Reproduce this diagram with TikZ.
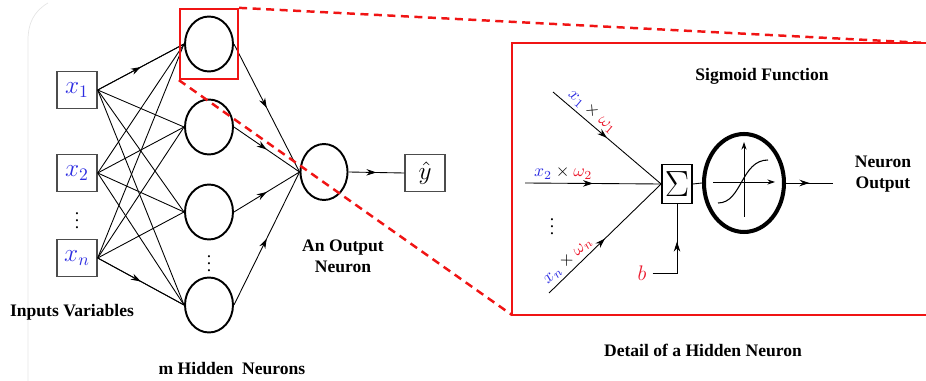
\documentclass[tikz,border=0pt]{standalone}
\usepackage{amsmath}
\usepackage{fontspec}
\setmainfont{Liberation Serif}
\usetikzlibrary{arrows.meta,decorations.markings,shapes.geometric,positioning}
\definecolor{inblue}{RGB}{45,45,225}
\definecolor{wred}{RGB}{235,25,45}
\definecolor{zoomred}{RGB}{240,20,20}
\tikzset{
  invar/.style={
    draw=black!70,
    line width=0.8pt,
    minimum width=8mm,
    minimum height=7.4mm,
    inner sep=0pt,
    font=\Large
  },
  neuron/.style={
    ellipse,
    draw,
    line width=1.1pt,
    minimum width=9.6mm,
    minimum height=11mm,
    inner sep=0pt
  },
  link/.style={
    line width=0.5pt
  },
  midarrow/.style={
    postaction={decorate},
    decoration={markings,
      mark=at position #1 with {\arrow{Stealth[length=2mm,width=1.3mm]}}}
  },
  midarrow/.default=0.5,
  zoombox/.style={
    draw=zoomred,
    line width=1.3pt,
    minimum width=11.6mm,
    minimum height=14mm
  },
  zoomline/.style={
    draw=zoomred,
    line width=1.4pt,
    dash pattern=on 1.6mm off 1.1mm
  },
  caption/.style={
    font=\bfseries,
    align=center
  },
  vdotsnode/.style={
    inner sep=0pt
  },
  sumbox/.style={
    draw,
    line width=1pt,
    minimum width=6mm,
    minimum height=7.8mm,
    inner sep=0pt,
    font=\fontsize{20}{20}\selectfont
  },
  sigmoid/.style={
    ellipse,
    draw,
    line width=2.3pt,
    minimum width=16mm,
    minimum height=19.6mm,
    inner sep=0pt
  },
  axis/.style={
    -{Stealth[length=1.5mm,width=1mm]},
    line width=0.5pt
  }
}

\begin{document}
\begin{tikzpicture}[x=0.02cm, y=-0.02cm]
  \useasboundingbox (0,0) rectangle (926,381);

  \draw[black!10] (28,381) -- (28,40) to[out=90,in=210] (48,3);

  % network
  \node[invar] (x1) at (77,90)  {$\color{inblue}x_1$};
  \node[invar] (x2) at (77,173) {$\color{inblue}x_2$};
  \node[vdotsnode] (xd) at (77,215) {$\vdots$};
  \node[invar] (xn) at (77,258) {$\color{inblue}x_n$};

  \node[neuron] (h1) at (209,44)  {};
  \node[neuron] (h2) at (209,127) {};
  \node[neuron] (h3) at (209,212) {};
  \node[vdotsnode] (hd) at (209,258) {$\vdots$};
  \node[neuron] (h4) at (209,305) {};

  \node[neuron, minimum width=9.4mm, minimum height=11.2mm] (o) at (324,172) {};
  \node[invar] (yhat) at (425,173) {$\hat{y}$};

  \foreach \i in {x1,x2,xn}
    \foreach \j in {h1,h2,h3,h4}
      \draw[link] (\i.east) -- (\j.west);
  \draw[link, midarrow] (x1.east) -- (h1.west);
  \draw[link, midarrow] (xn.east) -- (h4.west);
  \foreach \j in {h1,h2,h3,h4}
    \draw[link, midarrow] (\j.east) -- (o.west);
  \draw[link, midarrow] (o.east) -- (yhat.west);

  \node[caption] (inlbl) at (72,312) {Inputs Variables};
  \node[caption] (hidlbl) at (232,369) {m Hidden~ Neurons};
  \node[caption] (outlbl) at (343,256) {An Output\\Neuron};

  % zoom
  \node[zoombox] (zb) at (209,44) {};
  \coordinate (dne) at (926,43);
  \coordinate (dnw) at (512,43);
  \coordinate (dsw) at (512,315);
  \coordinate (dse) at (926,315);
  \draw[zoomred, line width=1.5pt] (dne) -- (dnw) -- (dsw) -- (dse);
  \draw[zoomline] (zb.north east) -- (dne);
  \draw[zoomline] (zb.south west) -- (dsw);

  % detail of a hidden neuron
  \node[sumbox] (sig) at (677,184) {$\Sigma$};
  \coordinate (in1) at (553,92);
  \coordinate (in2) at (525,183);
  \coordinate (inn) at (549,293);
  \draw[link, midarrow] (in1) -- node[sloped, above, pos=0.3, inner sep=2pt]
    {${\color{inblue}x_1}\times{\color{wred}\omega_1}$} (sig.west);
  \draw[link, midarrow] (in2) -- node[above, pos=0.28, inner sep=2pt]
    {${\color{inblue}x_2}\times{\color{wred}\omega_2}$} (sig.west);
  \draw[link, midarrow] (inn) -- node[sloped, above, pos=0.23, inner sep=2pt]
    {${\color{inblue}x_n}\times{\color{wred}\omega_n}$} (sig.west);
  \node[vdotsnode] (dd) at (552,221) {$\vdots$};

  \node[text=wred, font=\large] (b) at (642,273) {$b$};
  \draw[link, midarrow=0.6] (b.east) -| (sig.south);

  \node[sigmoid] (act) at (744,183) {};
  \draw[link] (sig.east) -- (act.west);
  \draw[axis] (713,182) -- (775,182);
  \draw[axis] (744,217) -- (744,142);
  \draw[line width=0.6pt] (718,203) .. controls (742,203) and (741,160) .. (768,160);

  \coordinate (out) at (833,183);
  \draw[link, midarrow] (act.east) -- (out);

  \node[caption] (siglbl) at (762,76) {Sigmoid Function};
  \node[caption] (outtxt) at (883,174) {Neuron\\Output};
  \node[caption] (detlbl) at (703,350) {Detail of a Hidden Neuron};
\end{tikzpicture}
\end{document}
